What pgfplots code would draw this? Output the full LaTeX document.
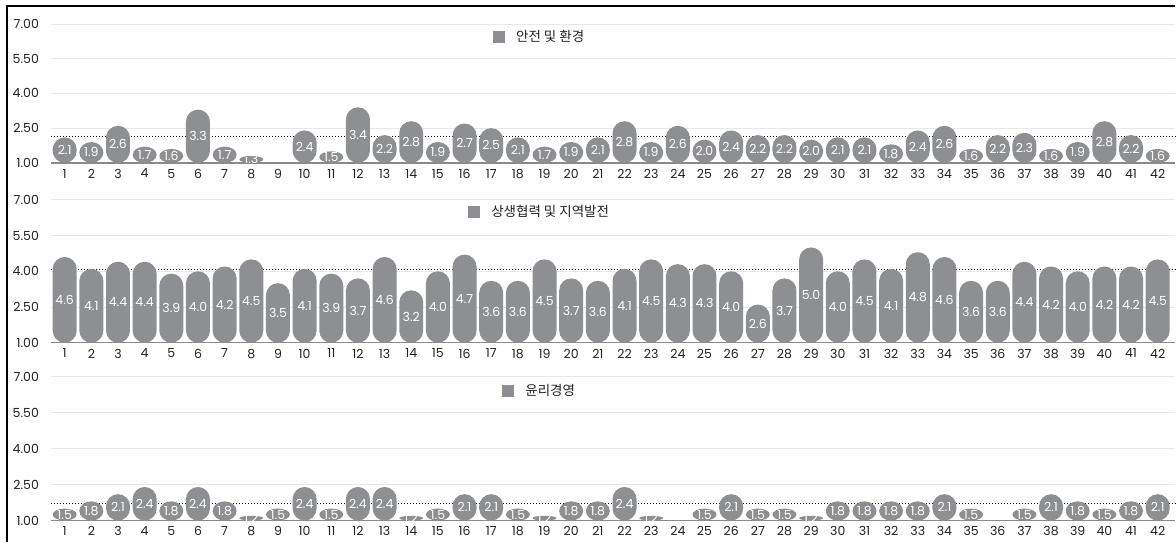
\documentclass[border=0pt]{standalone}
\usepackage{pgfplots}
\pgfplotsset{compat=1.18}
\usepackage{pgfplotstable}
\usetikzlibrary{shapes.geometric}
\usepackage{fontspec}
\setmainfont{Poppins}
\newfontfamily\krfont{Noto Sans CJK KR}

\definecolor{barcol}{HTML}{8E8F93}
\definecolor{basecol}{HTML}{8A8A8A}
\definecolor{gridcol}{HTML}{E8E8E8}
\definecolor{tickcol}{HTML}{222222}

% scores per site, 1-42
\pgfplotstableread{
x v
1 2.1
2 1.9
3 2.6
4 1.7
5 1.6
6 3.3
7 1.7
8 1.3
10 2.4
11 1.5
12 3.4
13 2.2
14 2.8
15 1.9
16 2.7
17 2.5
18 2.1
19 1.7
20 1.9
21 2.1
22 2.8
23 1.9
24 2.6
25 2.0
26 2.4
27 2.2
28 2.2
29 2.0
30 2.1
31 2.1
32 1.8
33 2.4
34 2.6
35 1.6
36 2.2
37 2.3
38 1.6
39 1.9
40 2.8
41 2.2
42 1.6
}\safety

\pgfplotstableread{
x v
1 4.6
2 4.1
3 4.4
4 4.4
5 3.9
6 4.0
7 4.2
8 4.5
9 3.5
10 4.1
11 3.9
12 3.7
13 4.6
14 3.2
15 4.0
16 4.7
17 3.6
18 3.6
19 4.5
20 3.7
21 3.6
22 4.1
23 4.5
24 4.3
25 4.3
26 4.0
27 2.6
28 3.7
29 5.0
30 4.0
31 4.5
32 4.1
33 4.8
34 4.6
35 3.6
36 3.6
37 4.4
38 4.2
39 4.0
40 4.2
41 4.2
42 4.5
}\community

\pgfplotstableread{
x v
1 1.5
2 1.8
3 2.1
4 2.4
5 1.8
6 2.4
7 1.8
8 1.2
9 1.5
10 2.4
11 1.5
12 2.4
13 2.4
14 1.2
15 1.5
16 2.1
17 2.1
18 1.5
19 1.2
20 1.8
21 1.8
22 2.4
23 1.2
25 1.5
26 2.1
27 1.5
28 1.5
29 1.2
30 1.8
31 1.8
32 1.8
33 1.8
34 2.1
35 1.5
37 1.5
38 2.1
39 1.8
40 1.5
41 1.8
42 2.1
}\ethics

\pgfplotsset{
  /pgf/number format/assume math mode=true,
  panel/.style={
    scale only axis, width=1125.4pt, height=#1,
    xmin=0.47, xmax=42.65, ymin=1, ymax=7,
    xtick={1,...,42},
    ytick={1,2.5,4,5.5,7},
    yticklabels={1.00,2.50,4.00,5.50,7.00},
    axis line style={draw=none},
    major tick length=0pt,
    ymajorgrids,
    grid style={gridcol, line width=0.8pt},
    ticklabel style={font=\fontsize{12.5}{12.5}\selectfont, text=tickcol},
    yticklabel style={anchor=east, inner sep=0pt, xshift=-11.5pt},
    xticklabel style={anchor=north, inner sep=0pt, yshift=-6pt},
    clip=false,
    legend style={draw=none, fill=none, inner sep=0pt,
      font=\krfont\fontsize{13.5}{13.5}\selectfont, text=tickcol},
  },
  % stadium-shaped bars whose height follows the value; #1 = pt per unit.
  % Bars shorter than their width are drawn as flat ellipses.
  roundbars/.style={
    draw=none, mark=none,
    point meta=explicit symbolic,
    legend image code/.code={\fill[barcol] (0pt,-6pt) rectangle (12pt,6pt);
      \path (0pt,0pt) -- (21pt,0pt);},
    nodes near coords={\mbox{}},
    every node near coord/.append style={
      anchor=north, inner sep=0pt, outer sep=0pt,
      fill=barcol, draw=none,
      minimum width=24pt,
      minimum height={(\pgfplotspointmeta-1)*#1*1pt},
      rounded corners={min(12,(\pgfplotspointmeta-1)*#1*0.5)*1pt},
      /utils/exec={\pgfmathsetmacro\barh{(\pgfplotspointmeta-1)*#1}%
        \ifdim\barh pt<24pt\relax\tikzset{ellipse}\fi},
      path picture={\node[fill=none, draw=none, text=white, inner sep=0pt,
          outer sep=0pt, minimum size=0pt, rounded corners=0pt, anchor=center,
          rectangle, font=\fontsize{12.5}{12.5}\selectfont]
          at (path picture bounding box.center)
          {\makebox[0pt]{\raisebox{-0.36em}[0pt][0pt]{\pgfplotspointmeta}}};},
    },
  },
  baseline/.style={basecol, line width=1.5pt, forget plot},
  meanline/.style={black, line width=1.1pt, dash pattern=on 1pt off 2pt, forget plot},
}

\begin{document}
\begin{tikzpicture}
\fill[white] (0,0) rectangle (1176pt,542pt);
\draw[black, line width=2pt] (7pt,0pt) -- (7pt,536pt) -- (1176pt,536pt);

% 안전 및 환경
\begin{axis}[panel=139pt, at={(50.6pt,379pt)}, anchor=south west,
  legend style={at={(0.435,0.906)}, anchor=center}]
  \addplot[baseline] coordinates {(0.47,1) (42.65,1)};
  \addplot[meanline] coordinates {(0.47,2.14) (42.65,2.14)};
  \addplot[roundbars=23.17] table[x=x, y=v, meta=v] {\safety};
  \addlegendentry{안전 및 환경}
\end{axis}

% 상생협력 및 지역발전
\begin{axis}[panel=143pt, at={(50.6pt,199pt)}, anchor=south west,
  legend style={at={(0.435,0.916)}, anchor=center}]
  \addplot[baseline] coordinates {(0.47,1) (42.65,1)};
  \addplot[meanline] coordinates {(0.47,4.09) (42.65,4.09)};
  \addplot[roundbars=23.83] table[x=x, y=v, meta=v] {\community};
  \addlegendentry{상생협력 및 지역발전}
\end{axis}

% 윤리경영
\begin{axis}[panel=144pt, at={(50.6pt,21pt)}, anchor=south west,
  legend style={at={(0.435,0.903)}, anchor=center}]
  \addplot[baseline] coordinates {(0.47,1) (42.65,1)};
  \addplot[meanline] coordinates {(0.47,1.73) (42.65,1.73)};
  \addplot[roundbars=24] table[x=x, y=v, meta=v] {\ethics};
  \addlegendentry{윤리경영}
\end{axis}
\end{tikzpicture}
\end{document}
